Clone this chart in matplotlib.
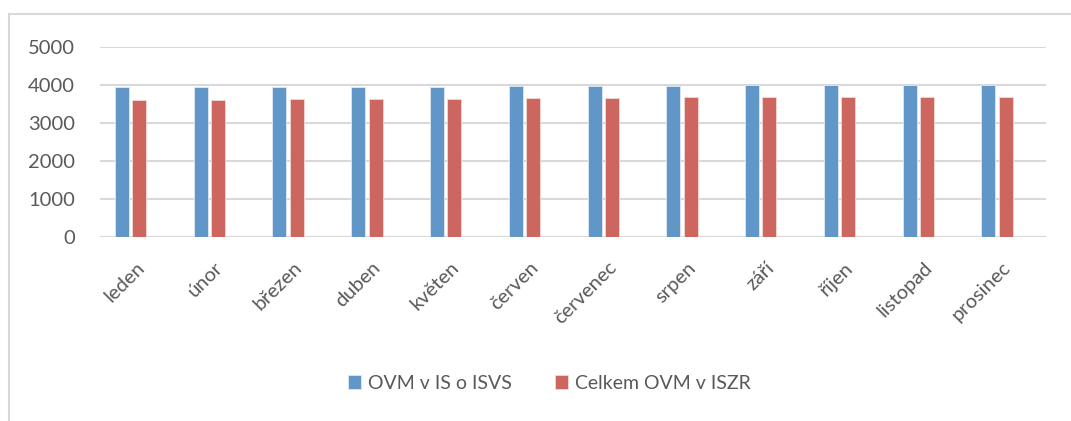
import matplotlib
matplotlib.use("Agg")
import matplotlib.pyplot as plt
import matplotlib.transforms as mtransforms
import numpy as np
from matplotlib.lines import Line2D

months = ["leden", "únor", "březen", "duben", "květen", "červen",
          "červenec", "srpen", "září", "říjen", "listopad", "prosinec"]
ovm_isvs = [3945, 3948, 3950, 3960, 3965, 3975, 3980, 3990, 3995, 3998, 4000, 4002]
ovm_iszr = [3610, 3612, 3625, 3640, 3645, 3660, 3662, 3675, 3680, 3695, 3697, 3700]
series_names = ["OVM v IS o ISVS", "Celkem OVM v ISZR"]
yticks = [0, 1000, 2000, 3000, 4000, 5000]

plt.rcParams["font.family"] = ["Lato", "DejaVu Sans"]
text_color = "#595959"
grid_color = "#d9d9d9"

fig = plt.figure(figsize=(10.71, 4.21), dpi=100)
ax = fig.add_axes([100 / 1071, 1 - 236.7 / 421, 946 / 1071, (236.7 - 47.3) / 421])

x = np.arange(len(months))
w = 0.178
ax.bar(x - 0.11, ovm_isvs, w, color="#6196C8", edgecolor="#dfe9f4",
       linewidth=0.6, label=series_names[0], zorder=3)
ax.bar(x + 0.11, ovm_iszr, w, color="#CD665F", edgecolor="#f2d9d7",
       linewidth=0.6, label=series_names[1], zorder=3)

ax.set_xlim(-0.387, 11.62)
ax.set_ylim(0, 5000)
ax.set_yticks(yticks)
ax.set_yticklabels([str(v) for v in yticks])
ax.yaxis.grid(True, color=grid_color, linewidth=1.5, zorder=0)
ax.set_axisbelow(True)
for s in ax.spines.values():
    s.set_visible(False)
ax.axhline(0, color=grid_color, linewidth=1.5, zorder=1)

ax.set_xticks(x)
ax.set_xticklabels(months, rotation=45, ha="right", va="top",
                   rotation_mode="anchor")
ax.tick_params(axis="x", length=0, pad=16, labelsize=14.5, colors=text_color)
ax.tick_params(axis="y", length=0, pad=18, labelsize=14.5, colors=text_color)
shift = mtransforms.ScaledTranslation(5 / 100, 0, fig.dpi_scale_trans)
for lbl in ax.get_xticklabels():
    lbl.set_transform(lbl.get_transform() + shift)

fig.legend(loc="center", bbox_to_anchor=(0.513, 0.09), ncol=2, frameon=False,
           fontsize=14, labelcolor=text_color, handlelength=0.7,
           handleheight=0.7, handletextpad=0.35, columnspacing=2.2)

# chart frame (only top and left edges visible)
fig.add_artist(Line2D([8.5 / 1071, 1.0], [1 - 13.5 / 421] * 2,
                      transform=fig.transFigure, color=grid_color, linewidth=1.5))
fig.add_artist(Line2D([8.5 / 1071] * 2, [0.0, 1 - 13.5 / 421],
                      transform=fig.transFigure, color=grid_color, linewidth=1.5))

fig.savefig("out.png", dpi=100, facecolor="white")
